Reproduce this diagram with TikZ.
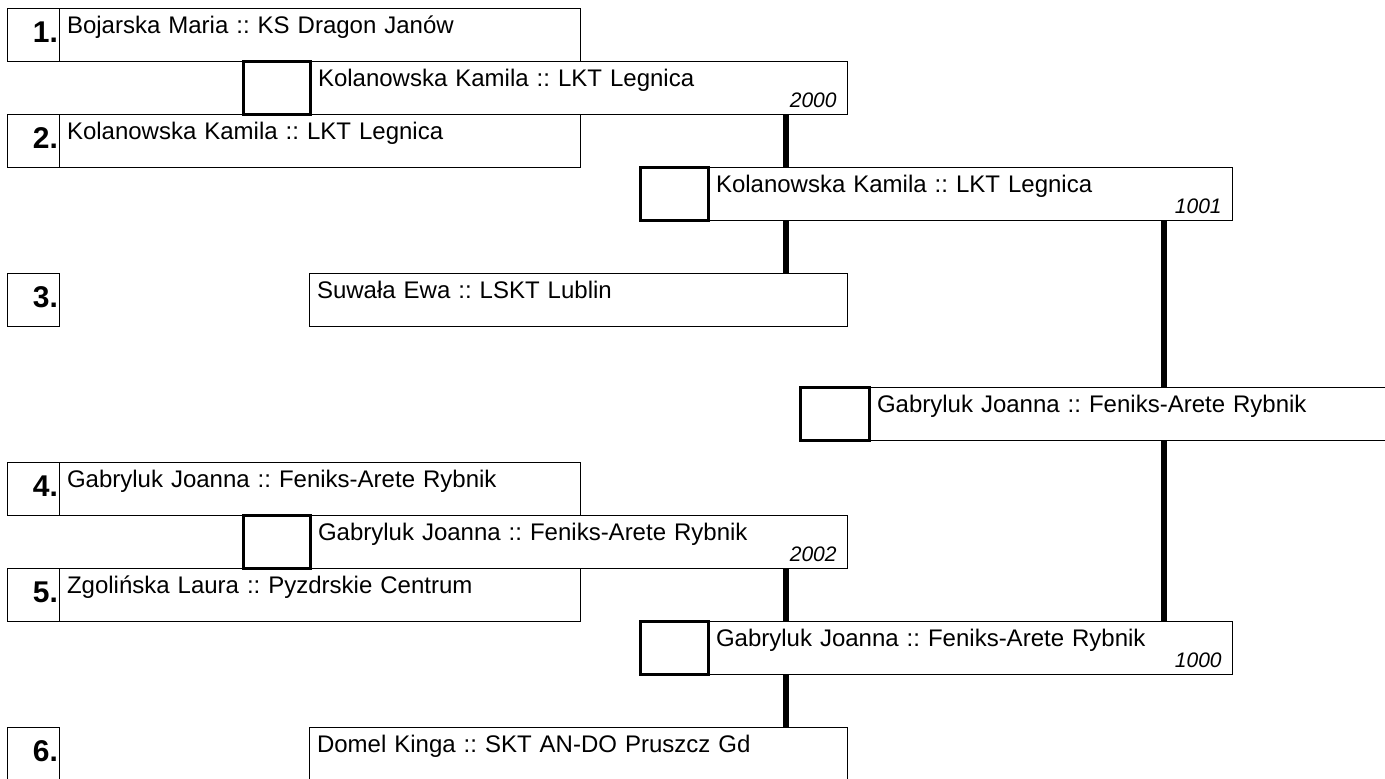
\documentclass[tikz,border=0pt]{standalone}
\usepackage{fontspec}
\setmainfont{Liberation Sans}
\frenchspacing
\newcommand\pxu{0.5pt}
\newcommand\namefont{\fontsize{12pt}{14pt}\selectfont}
\newcommand\numfont{\fontsize{15pt}{18pt}\selectfont\bfseries}
\newcommand\yearfont{\fontsize{10.5pt}{12pt}\selectfont\itshape}
\tikzset{
  namebox/.style={draw, line width=0.5pt, anchor=north west, inner xsep=8*\pxu, inner ysep=0pt, outer sep=0pt,
    text width=#1*\pxu-16*\pxu, align=left, text height=25*\pxu, text depth=28*\pxu, font=\namefont},
  numbox/.style={draw, line width=0.5pt, anchor=north west, inner xsep=1*\pxu, inner ysep=0pt, outer sep=0pt,
    text width=50*\pxu, align=right, text height=34*\pxu, text depth=19*\pxu, font=\numfont},
  scorebox/.style={draw, line width=1.5pt, anchor=north west, inner sep=0pt, outer sep=0pt,
    minimum width=#1*\pxu, minimum height=53*\pxu},
  year/.style={font=\yearfont, anchor=base east, inner sep=0pt, xshift=-5pt, yshift=3.5pt},
  link/.style={line width=3pt}
}
\begin{document}
\begin{tikzpicture}[x=0.5pt,y=-0.5pt]
\clip (0,0) rectangle (1385,778);
% players
\node[numbox] (n1) at (7,8) {1.};
\node[namebox=521] (p1) at (59,8) {Bojarska Maria :: KS Dragon Janów};
\node[numbox] (n2) at (7,114) {2.};
\node[namebox=521] (p2) at (59,114) {Kolanowska Kamila :: LKT Legnica};
\node[numbox] (n3) at (7,273) {3.};
\node[namebox=538] (p3) at (309,273) {Suwała Ewa :: LSKT Lublin};
\node[numbox] (n4) at (7,462) {4.};
\node[namebox=521] (p4) at (59,462) {Gabryluk Joanna :: Feniks-Arete Rybnik};
\node[numbox] (n5) at (7,568) {5.};
\node[namebox=521] (p5) at (59,568) {Zgolińska Laura :: Pyzdrskie Centrum};
\node[numbox] (n6) at (7,727) {6.};
\node[namebox=538] (p6) at (309,727) {Domel Kinga :: SKT AN-DO Pruszcz Gd};
% matches
\node[namebox=537, label={[year]south east:2000}] (m2000) at (310,61) {Kolanowska Kamila :: LKT Legnica};
\node[scorebox=67] (q2000) at (243,61) {};
\node[namebox=524, label={[year]south east:1001}] (m1001) at (708,167) {Kolanowska Kamila :: LKT Legnica};
\node[scorebox=68] (q1001) at (640,167) {};
\node[namebox=560] (mfin) at (869,387) {Gabryluk Joanna :: Feniks-Arete Rybnik};
\node[scorebox=69] (qfin) at (800,387) {};
\node[namebox=537, label={[year]south east:2002}] (m2002) at (310,515) {Gabryluk Joanna :: Feniks-Arete Rybnik};
\node[scorebox=67] (q2002) at (243,515) {};
\node[namebox=524, label={[year]south east:1000}] (m1000) at (708,621) {Gabryluk Joanna :: Feniks-Arete Rybnik};
\node[scorebox=68] (q1000) at (640,621) {};
% links
\coordinate (colA) at (786,0);
\coordinate (colB) at (1164,0);
\draw[link] (m2000.south -| colA) -- (m1001.north -| colA);
\draw[link] (m1001.south -| colA) -- (p3.north -| colA);
\draw[link] (m1001.south -| colB) -- (mfin.north -| colB);
\draw[link] (mfin.south -| colB) -- (m1000.north -| colB);
\draw[link] (m2002.south -| colA) -- (m1000.north -| colA);
\draw[link] (m1000.south -| colA) -- (p6.north -| colA);
\end{tikzpicture}
\end{document}
